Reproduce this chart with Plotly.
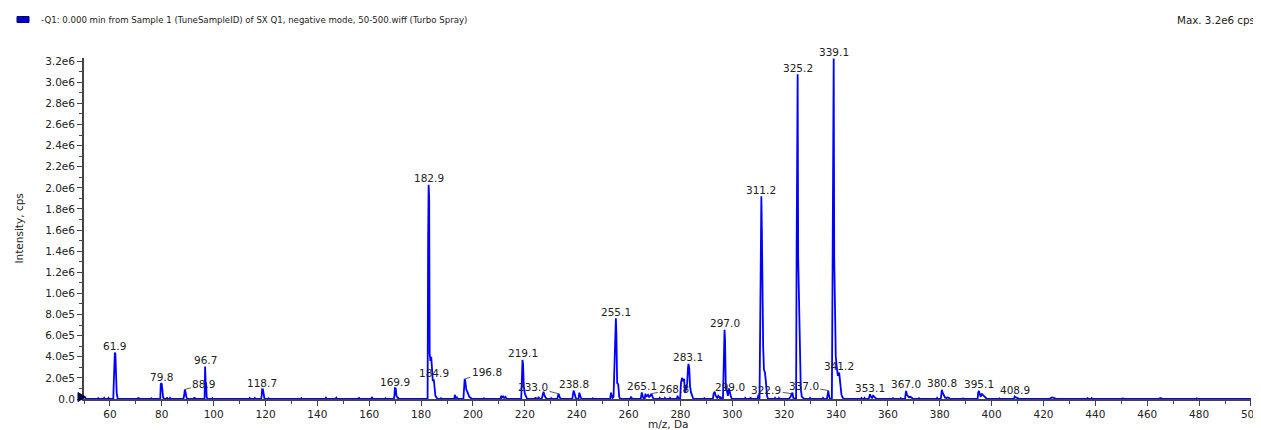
import plotly.graph_objects as go

# ---------------- data ----------------
mz_a = [
    50.0, 50.3, 50.8,
    55.3, 55.5, 55.8,
    57.6, 57.8, 58.1,
    59.3, 59.5, 59.8,
    61.3, 61.5, 61.7, 61.9, 62.1, 62.3, 62.6, 63.0,
    70.8, 71.0, 71.3,
    75.8, 76.0, 76.3,
    79.4, 79.6, 79.8, 80.0, 80.2, 80.5, 81.0,
    81.8, 82.0, 82.3,
    83.0, 83.2, 83.5,
    88.3, 88.6, 88.9, 89.2, 89.5, 89.9,
    92.3, 92.6, 92.9,
    96.5, 96.7, 96.9, 97.1, 97.3, 97.6,
    99.3, 99.5, 99.8,
    102.8, 103.0, 103.3,
    113.6, 113.9, 114.2,
    115.6, 115.9, 116.2,
    118.3, 118.5, 118.7, 119.0, 119.3, 119.6,
    121.0, 121.2, 121.5,
    129.8, 130.0, 130.3,
    133.5, 133.8, 134.1,
    143.0, 143.3, 143.6,
    147.0, 147.3, 147.6,
]
int_a = [
    2.5e4, 1.0e4, 0,
    0, 8e3, 0,
    0, 1.0e4, 0,
    0, 1.0e4, 0,
    0, 1.7e5, 4.3e5, 4.4e5, 4.3e5, 1.5e5, 6e4, 0,
    0, 1.5e4, 0,
    0, 6e3, 0,
    0, 1.4e5, 1.5e5, 1.4e5, 5e4, 1.5e4, 0,
    0, 1.5e4, 0,
    0, 1.0e4, 0,
    0, 3e4, 9e4, 6e4, 1.5e4, 0,
    0, 1.5e4, 0,
    0, 3.08e5, 1.6e5, 1.5e5, 2e4, 0,
    0, 8e3, 0,
    0, 6e3, 0,
    0, 1e4, 0,
    0, 1e4, 0,
    0, 3e4, 9.3e4, 9e4, 3e4, 0,
    0, 6e3, 0,
    0, 6e3, 0,
    0, 8e3, 0,
    0, 1.2e4, 0,
    0, 1.2e4, 0,
]

mz_b = [
    155.8, 156.0, 156.3,
    160.8, 161.0, 161.3,
    166.0, 166.2, 166.5,
    169.5, 169.7, 169.9, 170.2, 170.5, 170.9, 171.2, 171.5,
    182.5, 182.7, 182.9, 183.1, 183.3, 183.6, 183.9, 184.2, 184.5, 184.9, 185.2, 185.5, 186.0, 186.5,
    187.5, 187.7, 188.0,
    192.8, 193.0, 193.3, 193.8, 194.1,
    196.3, 196.5, 196.8, 197.1, 197.4, 197.8, 198.2, 198.6, 199.2, 199.6,
    204.0, 204.2, 204.5,
    210.6, 210.9, 211.2, 211.6, 212.0, 212.5, 213.0,
    218.6, 218.8, 219.1, 219.3, 219.6, 220.0, 220.5, 220.9,
    223.8, 224.1, 224.4, 225.0, 225.3, 225.6,
    226.5, 226.8, 227.2, 227.6, 228.0, 228.4,
    230.0, 230.2, 230.5,
    232.5, 232.8, 233.0, 233.4, 233.8,
    238.3, 238.6, 238.8, 239.2, 239.6, 240.0, 240.7, 241.0, 241.4, 241.8,
    246.0, 246.2, 246.5,
    252.9, 253.2, 253.5, 253.8, 254.2, 254.6, 254.9, 255.1, 255.3, 255.6, 256.0, 256.4, 256.8,
]
int_b = [
    0, 1.5e4, 0,
    0, 2e4, 0,
    0, 6e3, 0,
    0, 3e4, 1.02e5, 1.0e5, 3e4, 1e4, 1e4, 0,
    0, 1.5e6, 2.03e6, 1.9e6, 4.3e5, 3.6e5, 4.0e5, 2.0e5, 1.7e5, 1.85e5, 8e4, 3e4, 1e4, 0,
    0, 8e3, 0,
    0, 4e4, 1e4, 1.5e4, 0,
    0, 1.1e5, 1.9e5, 1.6e5, 9e4, 7e4, 5e4, 2e4, 1e4, 0,
    0, 6e3, 0,
    0, 3e4, 1.5e4, 2.5e4, 1e4, 2e4, 0,
    0, 2.8e5, 3.7e5, 3.3e5, 1.2e5, 5e4, 1e4, 0,
    0, 1.5e4, 0, 0, 2e4, 0,
    0, 4e4, 7e4, 3e4, 1e4, 0,
    0, 8e3, 0,
    0, 3e4, 5e4, 2e4, 0,
    0, 4e4, 8e4, 5e4, 1e4, 0, 0, 6e4, 3e4, 0,
    0, 6e3, 0,
    0, 6e4, 2e4, 1e4, 2e4, 3e5, 6.0e5, 7.65e5, 6.2e5, 1.5e5, 1.4e5, 2e4, 0,
]

mz_c = [
    260.6, 260.9, 261.2, 261.5,
    264.7, 264.9, 265.1, 265.4, 265.7, 266.2, 266.5, 266.8, 267.2, 267.5, 267.9, 268.4, 268.8, 269.2, 269.6,
    271.8, 272.0, 272.3, 273.8, 274.0, 274.3, 275.8, 276.0, 276.3,
    278.6, 278.9, 279.2, 279.9, 280.2, 280.6, 281.0, 281.4, 281.8, 282.2, 282.6, 282.9, 283.1, 283.4, 283.7, 284.1, 284.6, 285.0,
    289.0, 289.2, 289.5,
    292.5, 292.8, 293.2, 293.6, 294.2, 294.6, 295.2, 295.5, 295.8,
    296.4, 296.6, 296.8, 297.0, 297.2, 297.5, 297.9, 298.3, 298.7, 299.0, 299.4, 299.8,
    304.8, 305.0, 305.3, 306.8, 307.0, 307.3,
    309.5, 309.8, 310.1, 310.5, 310.7, 310.9, 311.1, 311.2, 311.4, 311.6, 311.9, 312.2, 312.6, 313.0, 313.4, 313.8,
    316.3, 316.5, 316.8, 317.8, 318.0, 318.3,
    321.8, 322.1, 322.5, 322.9, 323.2, 323.5,
    324.6, 324.8, 325.0, 325.2, 325.4, 325.7, 326.0, 326.4, 326.8, 327.3, 327.8,
    329.8, 330.0, 330.3,
]
int_c = [
    0, 2e4, 1e4, 0,
    0, 2e4, 6.2e4, 3e4, 1e4, 0, 5e4, 2e4, 3e4, 4e4, 2e4, 3e4, 5e4, 3e4, 0,
    0, 1e4, 0, 0, 1e4, 0, 0, 1e4, 0,
    0, 3e4, 1e4, 0, 1.5e5, 2.0e5, 1.7e5, 1.9e5, 6e4, 1e5, 1.5e5, 2.9e5, 3.33e5, 2.9e5, 1.2e5, 6e4, 2e4, 0,
    0, 8e3, 0,
    0, 5e4, 7e4, 3e4, 1e4, 3e4, 1e4, 2e4, 0,
    0, 2.5e5, 6.3e5, 6.55e5, 5.6e5, 1.0e5, 8e4, 3e4, 1e5, 5e4, 3e4, 0,
    0, 1e4, 0, 0, 1.5e4, 0,
    0, 1e4, 4e4, 0, 8.4e5, 1.63e6, 1.8e6, 1.92e6, 1.6e6, 5.5e5, 5.0e5, 2.8e5, 2.5e5, 1.5e5, 3e4, 0,
    0, 1e4, 0, 0, 1e4, 0,
    0, 1e4, 2e4, 5e4, 6e4, 1e4,
    0, 1.41e6, 2.5e6, 3.075e6, 1.35e6, 8.7e5, 3.2e5, 1.0e5, 2e4, 1e4, 0,
    0, 1e4, 0,
]

mz_d = [
    334.8, 335.0, 335.3,
    336.5, 336.8, 337.0, 337.3, 337.6,
    338.4, 338.7, 338.9, 339.1, 339.3, 339.6, 339.9, 340.3, 340.7, 341.2, 341.6, 342.1, 342.6, 343.2,
    349.5, 349.8, 350.1, 350.8, 351.0, 351.3,
    352.6, 352.9, 353.1, 353.5, 353.9, 354.3, 354.7, 355.2, 355.6,
    361.8, 362.0, 362.3, 364.8, 365.0, 365.3,
    366.6, 366.8, 367.0, 367.3, 367.7, 368.2, 368.7, 369.3, 369.8,
    371.8, 372.0, 372.3,
    378.8, 379.0, 379.3,
    380.4, 380.6, 380.8, 381.1, 381.5, 382.0, 382.6, 383.2, 383.8, 384.2,
    388.8, 389.0, 389.3,
    394.6, 394.8, 395.1, 395.4, 395.8, 396.1, 396.5, 397.0, 397.6, 398.2,
    402.8, 403.0, 403.3,
    408.4, 408.7, 408.9, 409.3, 409.8, 410.4, 410.9,
    422.3, 422.6, 423.2, 423.6, 424.2, 424.8, 425.2,
    436.7, 437.0, 437.3, 438.3, 438.6, 438.9,
    450.3, 450.6, 450.9, 451.8, 452.1, 452.4,
    464.7, 465.0, 465.5, 466.0, 466.4,
    478.8, 479.1, 479.4,
    500.0,
]
int_d = [
    0, 1e4, 0,
    0, 5e4, 8e4, 3e4, 0,
    0, 1.98e6, 3.1e6, 3.226e6, 1.34e6, 6.5e5, 4.0e5, 3.0e5, 2.2e5, 2.5e5, 1.2e5, 4e4, 1e4, 0,
    0, 1e4, 0, 0, 1e4, 0,
    0, 2e4, 4.5e4, 2e4, 1e4, 3e4, 2e4, 1e4, 0,
    0, 8e3, 0, 0, 8e3, 0,
    0, 4e4, 7.7e4, 4e4, 2.5e4, 1.5e4, 2e4, 1e4, 0,
    0, 8e3, 0,
    0, 1e4, 0,
    0, 5e4, 8.7e4, 6e4, 3e4, 1.5e4, 1e4, 1.5e4, 5e3, 0,
    0, 5e3, 0,
    0, 6e4, 7.7e4, 5e4, 2e4, 5e4, 4e4, 2e4, 1e4, 0,
    0, 5e3, 0,
    0, 1e4, 2.4e4, 1.5e4, 1e4, 5e3, 0,
    0, 8e3, 1.5e4, 1.2e4, 1e4, 5e3, 0,
    0, 8e3, 0, 0, 8e3, 0,
    0, 6e3, 0, 0, 6e3, 0,
    0, 1e4, 8e3, 5e3, 0,
    0, 6e3, 0,
    0,
]

label_mz = [61.9, 79.8, 88.9, 96.7, 118.7, 169.9, 182.9, 184.9, 196.8, 219.1,
            233.0, 238.8, 255.1, 265.1, 268.8, 283.1, 297.0, 299.0, 311.2, 322.9,
            325.2, 337.0, 339.1, 341.2, 353.1, 367.0, 380.8, 395.1, 408.9]
label_int = [4.4e5, 1.5e5, 9e4, 3.08e5, 9.3e4, 1.02e5, 2.03e6, 1.85e5, 1.9e5, 3.7e5,
             5e4, 8e4, 7.65e5, 6.2e4, 5e4, 3.33e5, 6.55e5, 5e4, 1.92e6, 5e4,
             3.075e6, 8e4, 3.226e6, 2.5e5, 4.5e4, 7.7e4, 8.7e4, 7.7e4, 2.4e4]

x_tickvals = [60, 80, 100, 120, 140, 160, 180, 200, 220, 240, 260, 280,
              300, 320, 340, 360, 380, 400, 420, 440, 460, 480, 500]
y_tickvals = [0, 2e5, 4e5, 6e5, 8e5, 1.0e6, 1.2e6, 1.4e6, 1.6e6, 1.8e6,
              2.0e6, 2.2e6, 2.4e6, 2.6e6, 2.8e6, 3.0e6, 3.2e6]
y_ticktext = ["0.0", "2.0e5", "4.0e5", "6.0e5", "8.0e5", "1.0e6", "1.2e6", "1.4e6", "1.6e6", "1.8e6",
              "2.0e6", "2.2e6", "2.4e6", "2.6e6", "2.8e6", "3.0e6", "3.2e6"]

legend_text = "-Q1: 0.000 min from Sample 1 (TuneSampleID) of SX Q1, negative mode, 50-500.wiff (Turbo Spray)"
max_text = "Max. 3.2e6 cps"

for a, b in [(mz_a, int_a), (mz_b, int_b), (mz_c, int_c), (mz_d, int_d)]:
    assert len(a) == len(b), (len(a), len(b))

mz = mz_a + mz_b + mz_c + mz_d
intensity = int_a + int_b + int_c + int_d

# ---------------- layout geometry ----------------
# the page body has an 8px margin, so the figure is drawn 8px lower/right
OFF = 8
W, H = 1261 - OFF, 430 - OFF
PLOT_L, PLOT_R, PLOT_T, PLOT_B = 84, 1251, 58, 399        # page pixels
L, R, T = PLOT_L - OFF, W - (PLOT_R - OFF), PLOT_T - OFF
B = H - (PLOT_B - OFF)
PW, PH = PLOT_R - PLOT_L, PLOT_B - PLOT_T
FONT = "DejaVu Sans"
TXT = "#222222"
AX = "#444444"


def px(x, y):
    """page pixel -> paper coordinates"""
    return (x - PLOT_L) / PW, (PLOT_B - y) / PH


fig = go.Figure()
fig.add_trace(go.Scatter(
    x=mz, y=intensity, mode="lines",
    line=dict(color="#0000FF", width=1.8),
    hoverinfo="skip", showlegend=False,
))

# leader-line offsets (pixels) for labels drawn beside their peak
leaders = {88.9: (19, -5.5), 196.8: (22, -6.5), 233.0: (-25.5, -6.5),
           268.8: (23, -5), 322.9: (-25.6, -4), 337.0: (-24.5, -4.5)}

ann = []
for m, v in zip(label_mz, label_int):
    txt = f"{m:.1f}"
    if m in leaders:
        axo, ayo = leaders[m]
        ann.append(dict(x=m, y=v, text=txt, showarrow=True, ax=axo, ay=ayo,
                        arrowhead=0, arrowwidth=0.8, arrowcolor="#333333",
                        font=dict(family=FONT, size=10.5, color=TXT)))
    else:
        ann.append(dict(x=m, y=v, text=txt, showarrow=False, yanchor="middle",
                        yshift=6.5, font=dict(family=FONT, size=10.5, color=TXT)))

# axis titles
ann.append(dict(xref="paper", yref="paper", x=0, y=0.5, xshift=-66, xanchor="center",
                yanchor="middle", text="Intensity, cps", textangle=-90, showarrow=False,
                font=dict(family=FONT, size=10.5, color=TXT)))
ann.append(dict(xref="paper", yref="paper", x=0.5, y=0, yshift=-25, xanchor="center",
                yanchor="middle", text="m/z, Da", showarrow=False,
                font=dict(family=FONT, size=10.5, color=TXT)))
# header texts
lx, ly = px(39, 19.5)
ann.append(dict(xref="paper", yref="paper", x=lx, y=ly, xanchor="left", yanchor="middle",
                text=legend_text, showarrow=False, font=dict(family=FONT, size=8.6, color=TXT)))
mx, my = px(1175, 19.5)
ann.append(dict(xref="paper", yref="paper", x=mx, y=my, xanchor="left", yanchor="middle",
                text=max_text, showarrow=False, font=dict(family=FONT, size=10.3, color=TXT)))

r0 = px(17, 16.5)
r1 = px(29, 22.5)
t_a, t_b, t_c = px(78, 392.5), px(85.5, 397), px(78, 401.5)
shapes = [
    dict(type="rect", xref="paper", yref="paper", x0=r0[0], y0=r1[1], x1=r1[0], y1=r0[1],
         fillcolor="#0000C8", line=dict(color="#000070", width=1)),
    dict(type="path", xref="paper", yref="paper",
         path=f"M {t_a[0]},{t_a[1]} L {t_b[0]},{t_b[1]} L {t_c[0]},{t_c[1]} Z",
         fillcolor="#000050", line=dict(color="#000050", width=1)),
]

fig.update_layout(
    width=W, height=H,
    margin=dict(l=L, r=R, t=T, b=B, autoexpand=False),
    paper_bgcolor="white", plot_bgcolor="white",
    font=dict(family=FONT, size=10.5, color=TXT),
    annotations=ann, shapes=shapes,
    xaxis=dict(
        range=[50, 500.02], tickmode="array", tickvals=x_tickvals,
        ticktext=[str(v) for v in x_tickvals], automargin=False,
        ticks="outside", ticklen=5, tickwidth=1,
        tickcolor=AX, showline=True, linecolor=AX, linewidth=1.5,
        showgrid=False, zeroline=False,
        tickfont=dict(family=FONT, size=10.5, color=TXT),
        minor=dict(tick0=0, dtick=10, ticks="outside", ticklen=3, tickcolor=AX, showgrid=False),
    ),
    yaxis=dict(
        range=[0, 3.23e6], tickmode="array", tickvals=y_tickvals, ticktext=y_ticktext,
        automargin=False,
        ticks="outside", ticklen=5, tickwidth=1, tickcolor=AX,
        showline=True, linecolor=AX, linewidth=1.8,
        showgrid=False, zeroline=False,
        tickfont=dict(family=FONT, size=10.5, color=TXT),
        minor=dict(tick0=0, dtick=1e5, ticks="outside", ticklen=3, tickcolor=AX, showgrid=False),
    ),
)

fig.write_html("out.html")
